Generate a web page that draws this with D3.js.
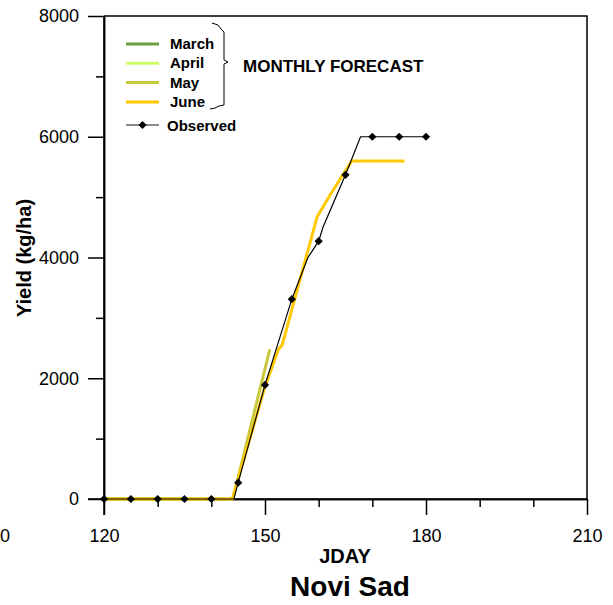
<!DOCTYPE html>
<html>
<head>
<meta charset="utf-8">
<script src="https://cdn.jsdelivr.net/npm/d3@7"></script>
<style>
  body { margin: 0; background: #fff; }
  svg { display: block; font-family: "Liberation Sans", Arial, sans-serif; }
</style>
</head>
<body>
<svg id="chart" width="613" height="605"></svg>
<script>
// observed yield (thin line) and the 5-day markers
var obsLineDays = [120, 144.2, 145, 150, 155, 158, 160, 160.8, 165, 167.8, 180];
var obsLineYield = [0, 0, 270, 1890, 3310, 4000, 4270, 4500, 5370, 6000, 6000];
var obsMarkDays = [120, 125, 130, 135, 140, 145, 150, 155, 160, 165, 170, 175, 180];
var obsMarkYield = [0, 0, 0, 0, 0, 270, 1890, 3310, 4270, 5370, 6000, 6000, 6000];

// monthly forecasts
var marchDays = [120, 135];
var marchYield = [0, 0];
var aprilDays = [120, 140];
var aprilYield = [0, 0];
var mayDays = [120, 144, 150.9];
var mayYield = [0, 0, 2480];
var juneDays = [120, 143.9, 150, 152.5, 153.2, 159.7, 162.1, 164.5, 166.2, 176];
var juneYield = [0, 0, 1860, 2480, 2550, 4670, 5030, 5370, 5600, 5600];

var forecastNames = ["March", "April", "May", "June"];
var forecastColors = ["#6b9e3c", "#ccff66", "#c8c83c", "#ffc800"];

var xMajor = [120, 150, 180, 210];
var xMinor = [130, 140, 160, 170, 190, 200];
var yMajor = [0, 2000, 4000, 6000, 8000];
var yMinor = [1000, 3000, 5000, 7000];

var svg = d3.select("#chart");
var x = d3.scaleLinear().domain([120, 210]).range([104, 587]);
var y = d3.scaleLinear().domain([0, 8000]).range([499, 16]);

function zip(days, vals) {
  return days.map(function(d, i) { return [d, vals[i]]; });
}

var line = d3.line()
  .x(function(d) { return x(d[0]); })
  .y(function(d) { return y(d[1]); });

// frame top and right
svg.append("path")
  .attr("d", "M" + x(120) + "," + y(8000) + "H" + x(210) + "V" + y(0))
  .attr("fill", "none").attr("stroke", "#000").attr("stroke-width", 1.5);

// axes
var xAxis = svg.append("g").attr("transform", "translate(0," + y(0) + ")")
  .call(d3.axisBottom(x).tickValues(xMajor).tickSize(16).tickSizeOuter(0).tickPadding(14));
var xAxisMinor = svg.append("g").attr("transform", "translate(0," + y(0) + ")")
  .call(d3.axisBottom(x).tickValues(xMinor).tickSize(8).tickSizeOuter(0).tickFormat(""));
var yAxis = svg.append("g").attr("transform", "translate(" + x(120) + ",0)")
  .call(d3.axisLeft(y).tickValues(yMajor).tickSize(16).tickSizeOuter(0).tickPadding(9)
    .tickFormat(d3.format("d")));
var yAxisMinor = svg.append("g").attr("transform", "translate(" + x(120) + ",0)")
  .call(d3.axisLeft(y).tickValues(yMinor).tickSize(8).tickSizeOuter(0).tickFormat(""));

[xAxis, xAxisMinor, yAxis, yAxisMinor].forEach(function(g) {
  g.selectAll("path, line").attr("stroke", "#000").attr("stroke-width", 1.5);
  g.selectAll("text").attr("font-size", 18).attr("fill", "#000")
    .attr("font-family", "Liberation Sans, Arial, sans-serif");
});
// axis lines extend through the 120 and 0 ticks
svg.append("line").attr("x1", x(120)).attr("x2", x(120)).attr("y1", y(8000)).attr("y2", y(0) + 16)
  .attr("stroke", "#000").attr("stroke-width", 1.5);
svg.append("line").attr("x1", x(120) - 16).attr("x2", x(210)).attr("y1", y(0)).attr("y2", y(0))
  .attr("stroke", "#000").attr("stroke-width", 1.5);

// leftover label at the left edge
svg.append("text").attr("x", 0).attr("y", 542)
  .attr("font-size", 18).text("0");

// forecast lines
var forecasts = [zip(marchDays, marchYield), zip(aprilDays, aprilYield),
                 zip(mayDays, mayYield), zip(juneDays, juneYield)];
svg.selectAll(".fc").data(forecasts).enter().append("path")
  .attr("class", "fc")
  .attr("d", line)
  .attr("fill", "none")
  .attr("stroke", function(d, i) { return forecastColors[i]; })
  .attr("stroke-width", 3)
  .attr("stroke-linejoin", "round");

// observed
svg.append("path").datum(zip(obsLineDays, obsLineYield))
  .attr("d", line).attr("fill", "none").attr("stroke", "#000").attr("stroke-width", 1.2);

var diamond = d3.symbol().type(d3.symbolSquare).size(34);
svg.selectAll(".obs").data(zip(obsMarkDays, obsMarkYield)).enter().append("path")
  .attr("class", "obs")
  .attr("d", diamond)
  .attr("transform", function(d) { return "translate(" + x(d[0]) + "," + y(d[1]) + ") rotate(45)"; })
  .attr("fill", "#000");

// legend
var legX = 126, legY = 44, legStep = 19.3, legLen = 33;
var leg = svg.append("g");
forecastNames.forEach(function(name, i) {
  var ly = legY + i * legStep;
  leg.append("line").attr("x1", legX).attr("x2", legX + legLen).attr("y1", ly).attr("y2", ly)
    .attr("stroke", forecastColors[i]).attr("stroke-width", 3);
  leg.append("text").attr("x", legX + 44).attr("y", ly + 5)
    .attr("font-size", 15).attr("font-weight", "bold").text(name);
});
var obsY = 125;
leg.append("line").attr("x1", legX).attr("x2", legX + legLen).attr("y1", obsY).attr("y2", obsY)
  .attr("stroke", "#666").attr("stroke-width", 1.5);
leg.append("path").attr("d", diamond)
  .attr("transform", "translate(" + (legX + legLen / 2) + "," + obsY + ") rotate(45)");
leg.append("text").attr("x", legX + 41).attr("y", obsY + 6)
  .attr("font-size", 15).attr("font-weight", "bold").text("Observed");

// brace
var bx = 224;
leg.append("path")
  .attr("d", "M212,23 L218,25 L221,29 L" + bx + ",32 L" + bx + ",60 L228,62 L" + bx + ",64 L" + bx + ",105 L219,106 L215,108 L210,109")
  .attr("fill", "none").attr("stroke", "#000").attr("stroke-width", 1);
leg.append("text").attr("x", 243).attr("y", 72)
  .attr("font-size", 17).attr("font-weight", "bold").text("MONTHLY FORECAST");

// axis titles
svg.append("text").attr("x", 345).attr("y", 563).attr("text-anchor", "middle")
  .attr("font-size", 20).attr("font-weight", "bold").text("JDAY");
svg.append("text").attr("x", 350).attr("y", 596).attr("text-anchor", "middle")
  .attr("font-size", 28).attr("font-weight", "bold").text("Novi Sad");
svg.append("text").attr("transform", "translate(31,258) rotate(-90)").attr("text-anchor", "middle")
  .attr("font-size", 20).attr("font-weight", "bold").text("Yield (kg/ha)");
</script>
</body>
</html>
